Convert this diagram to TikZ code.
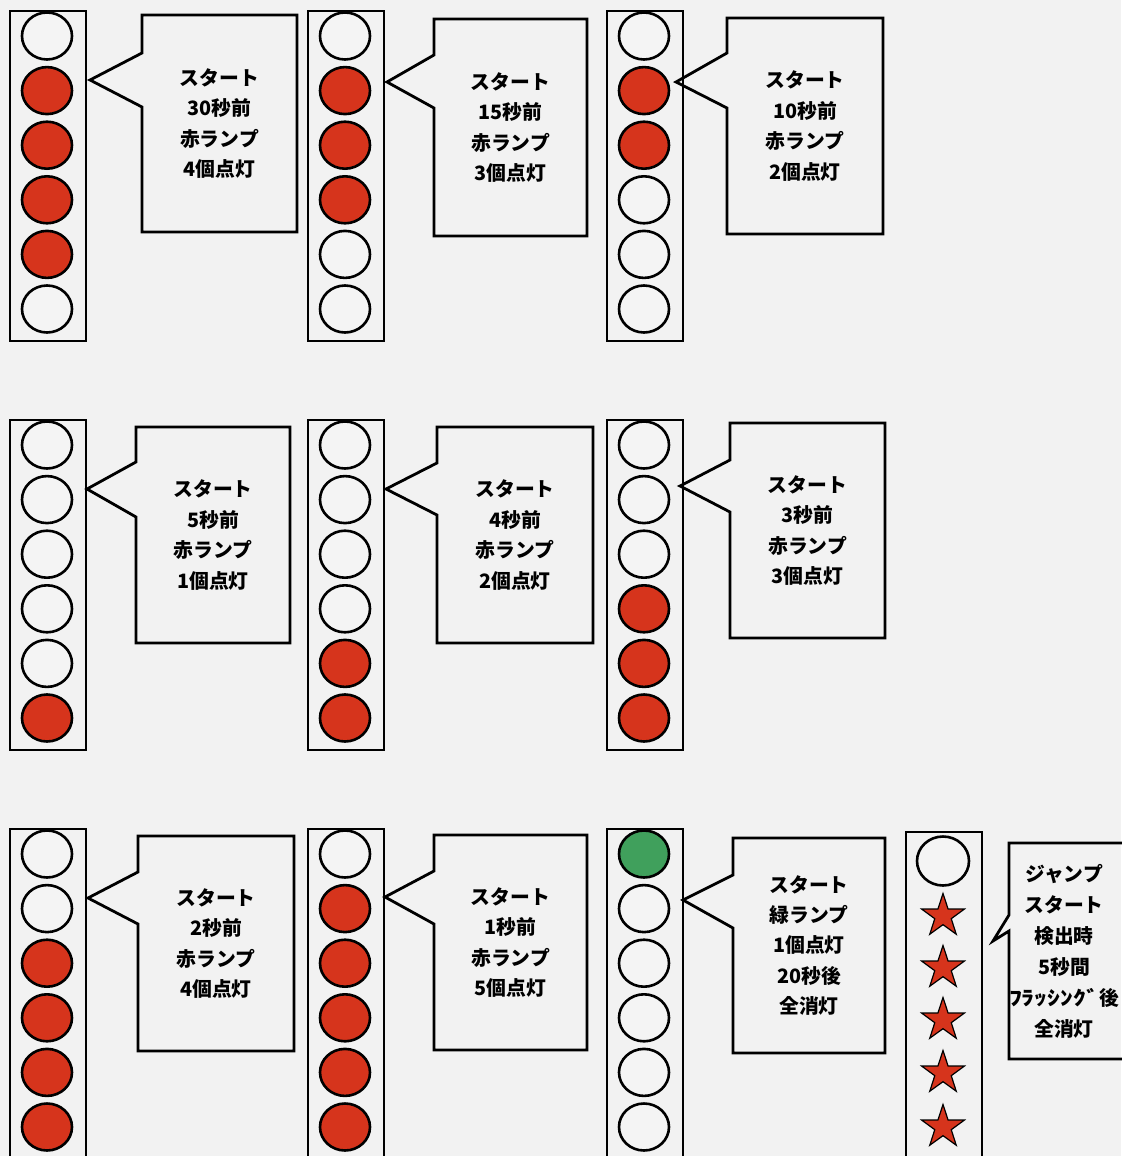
\documentclass[tikz,border=0pt]{standalone}
\usepackage{fontspec}
\usepackage{graphicx}
\newfontfamily\jp{Noto Sans CJK JP}
\usetikzlibrary{shapes.geometric}
\definecolor{bg}{RGB}{242,242,242}
\definecolor{lr}{RGB}{214,52,28}
\definecolor{lg}{RGB}{64,160,92}
\definecolor{lw}{RGB}{244,244,244}
\tikzset{
  lamp/.style={ellipse, draw=black, line width=1.3pt, minimum width=25pt, minimum height=23.5pt, inner sep=0pt},
  starlamp/.style={star, star points=5, star point ratio=2.6, draw=black, line width=0.6pt, fill=lr, minimum size=22.5pt, inner sep=0pt},
  frame/.style={draw=black, line width=1.4pt},
  bubble/.style={draw=black, line width=1.4pt, line join=miter},
  lbl/.style={font=\jp\bfseries\fontsize{9.9}{15.2}\selectfont, align=center, inner sep=0pt},
}
\newcommand\lampcol[4]{%
  \draw[frame] (#2,#3) rectangle (#2+76,#3+330);
  \foreach \c [count=\i] in {#4} {
    \node[lamp, fill=\c] (#1-\i) at (#2+37, {#3+25+54.6*(\i-1)}) {};
  }
}
\newcommand\callout[9]{%
  \draw[bubble] (#1,#2) -- (#3,#2) -- (#3,#4) -- (#1,#4) -- (#1,#8) -- (#5,#6) -- (#1,#7) -- cycle;
  \node[lbl] (c#1-#2) at ({(#1+#3)/2},{(#2+#4)/2}) {#9};
}
\begin{document}
\begin{tikzpicture}[x=0.5pt,y=-0.5pt]
\path[use as bounding box, fill=bg] (0,0) rectangle (1121,1156);
% row 1
\lampcol{a}{10}{11}{lw,lr,lr,lr,lr,lw}
\callout{142}{15}{297}{232}{90}{80}{53}{107}{スタート\\30秒前\\赤ランプ\\4個点灯}
\lampcol{b}{308}{11}{lw,lr,lr,lr,lw,lw}
\callout{434}{19}{587}{236}{387}{82}{55}{108}{スタート\\15秒前\\赤ランプ\\3個点灯}
\lampcol{c}{607}{11}{lw,lr,lr,lw,lw,lw}
\callout{727}{18}{883}{234}{676}{82}{53}{108}{スタート\\10秒前\\赤ランプ\\2個点灯}
% row 2
\lampcol{d}{10}{420}{lw,lw,lw,lw,lw,lr}
\callout{136}{427}{290}{643}{87}{489}{462}{517}{スタート\\5秒前\\赤ランプ\\1個点灯}
\lampcol{e}{308}{420}{lw,lw,lw,lw,lr,lr}
\callout{437}{427}{593}{643}{386}{489}{463}{515}{スタート\\4秒前\\赤ランプ\\2個点灯}
\lampcol{f}{607}{420}{lw,lw,lw,lr,lr,lr}
\callout{730}{423}{885}{638}{680}{486}{460}{512}{スタート\\3秒前\\赤ランプ\\3個点灯}
% row 3
\lampcol{g}{10}{829}{lw,lw,lr,lr,lr,lr}
\callout{138}{836}{294}{1051}{88}{898}{872}{924}{スタート\\2秒前\\赤ランプ\\4個点灯}
\lampcol{h}{308}{829}{lw,lr,lr,lr,lr,lr}
\callout{434}{835}{587}{1050}{385}{897}{871}{924}{スタート\\1秒前\\赤ランプ\\5個点灯}
\lampcol{k}{607}{829}{lg,lw,lw,lw,lw,lw}
\callout{733}{838}{885}{1053}{683}{900}{875}{928}{スタート\\緑ランプ\\1個点灯\\20秒後\\全消灯}
% star column
\draw[frame] (906,832) rectangle (982,1170);
\node[lamp, fill=lw, minimum width=26pt, minimum height=24.5pt] (m-1) at (943,861) {};
\foreach \yy [count=\i from 2] in {916,968,1020,1073,1127} {
  \node[starlamp] (m-\i) at (943,\yy) {};
}
\draw[bubble] (1009,843) -- (1135,843) -- (1135,1059) -- (1009,1059) -- (1009,931) -- (993,941) -- (1009,915) -- cycle;
\node[lbl, font=\jp\bfseries\fontsize{9.9}{15.5}\selectfont] (cj) at (1064,951) {ジャンプ\\スタート\\検出時\\5秒間\\\scalebox{1.3}[1]{ﾌﾗｯｼﾝｸﾞ}後\\全消灯};
\end{tikzpicture}
\end{document}
